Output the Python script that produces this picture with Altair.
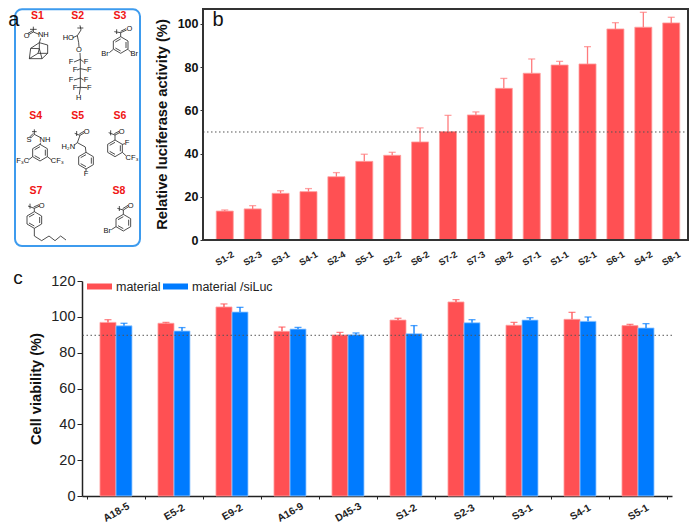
import altair as alt
import pandas as pd

FONT = "Liberation Sans"
RED = "#FF5053"
BLUE = "#007BFF"
RED_EDGE = "#FFA0A0"
BLUE_EDGE = "#9CCBFF"

# ---- panel b ----
b_names = ["S1-2", "S2-3", "S3-1", "S4-1", "S2-4", "S5-1", "S2-2", "S6-2", "S7-2", "S7-3",
           "S8-2", "S7-1", "S1-1", "S2-1", "S6-1", "S4-2", "S8-1"]
b_vals = [13.4, 14.4, 21.6, 22.4, 29.3, 36.4, 39.2, 45.4, 50.2, 57.9,
          70.2, 77.2, 81.0, 81.5, 97.7, 98.5, 100.5]
b_tops = [13.9, 15.9, 22.8, 23.8, 31.2, 39.7, 40.6, 51.9, 57.7, 59.3,
          74.8, 83.8, 82.7, 89.5, 100.6, 105.4, 103.1]
b_line = 50
b_df = pd.DataFrame({"name": b_names, "val": b_vals, "top": b_tops})

# ---- panel c ----
c_names = ["A18-5", "E5-2", "E9-2", "A16-9", "D45-3", "S1-2", "S2-3", "S3-1", "S4-1", "S5-1"]
c_mat = [96.9, 96.4, 105.5, 91.9, 89.9, 98.2, 108.3, 95.3, 98.6, 95.1]
c_mat_top = [98.4, 96.9, 107.2, 94.3, 91.3, 99.2, 109.6, 96.9, 102.5, 95.8]
c_si = [95.0, 92.1, 102.7, 93.2, 90.0, 90.6, 96.7, 98.2, 97.5, 93.8]
c_si_top = [96.4, 94.0, 105.3, 94.1, 91.0, 95.1, 98.4, 99.5, 99.9, 96.2]
c_line = 89.7
c_series = ["material", "material /siLuc"]
c_df = pd.DataFrame({
    "name": c_names * 2,
    "series": [c_series[0]] * 10 + [c_series[1]] * 10,
    "val": c_mat + c_si,
    "top": c_mat_top + c_si_top,
})

# ---- panel a: structure drawing ----
a_titles = ["S1", "S2", "S3", "S4", "S5", "S6", "S7", "S8"]
a_title_x = [112, 233, 360, 107, 233, 360, 108, 357]
a_title_y = [47, 47, 47, 347, 347, 347, 572, 572]

atom_text = ["O", "NH", "HO", "O", "F", "F", "F", "F", "F", "F", "F", "F", "H",
             "O", "Br", "Br",
             "S", "NH", "F\u2083C", "CF\u2083",
             "O", "H\u2082N", "F",
             "O", "F", "CF\u2083",
             "O", "O", "Br"]
atom_x = [80, 130, 205, 237, 213, 258, 225, 268, 213, 258, 225, 268, 236,
          388, 315, 403,
          87, 135, 68, 172,
          260, 205, 258,
          365, 381, 396,
          125, 392, 322]
atom_y = [108, 106, 114, 150, 187, 187, 210, 210, 240, 240, 263, 263, 295,
          88, 163, 163,
          420, 420, 484, 484,
          397, 440, 523,
          397, 430, 475,
          617, 618, 692]

ring_cx = [362, 120, 258, 345, 103, 370]
ring_cy = [135, 458, 482, 445, 660, 668]
ring_outer = [(0, -25), (22, -12), (22, 12), (0, 25), (-22, 12), (-22, -12), (0, -25)]
ring_inner = [((16, -9), (16, 9)), ((-16, 9), (0, 18)), ((-16, -9), (0, -18))]

chains = [
    # S1
    [(100, 80), (100, 96), (117, 103)], [(90, 88), (110, 88)], [(100, 96), (86, 104)], [(98, 92), (84, 100)],
    [(122, 115), (118, 128), (92, 145), (88, 176), (114, 160), (143, 160), (143, 135), (118, 128)],
    [(118, 128), (118, 146), (92, 145)], [(118, 146), (114, 160)], [(88, 176), (126, 176), (143, 160)], [(118, 146), (126, 176)],
    # S2
    [(240, 76), (243, 90), (232, 107), (218, 113)], [(232, 84), (250, 84)], [(232, 107), (236, 128), (237, 141)],
    [(240, 159), (241, 178), (241, 206), (241, 234), (241, 262), (238, 284)],
    [(241, 178), (222, 186)], [(241, 178), (251, 186)], [(241, 206), (231, 210)], [(241, 206), (261, 210)],
    [(241, 234), (222, 240)], [(241, 234), (251, 240)], [(241, 262), (231, 263)], [(241, 262), (261, 263)],
    # S3
    [(350, 88), (350, 102)], [(343, 95), (362, 98), (362, 110)], [(362, 98), (380, 90)], [(362, 94), (378, 86)],
    [(340, 148), (328, 158)], [(384, 148), (394, 158)],
    # S4
    [(103, 388), (103, 403), (122, 413)], [(96, 395), (110, 395)], [(103, 403), (92, 414)], [(100, 400), (89, 411)],
    [(122, 428), (120, 433)], [(98, 470), (85, 480)], [(142, 470), (155, 480)],
    # S5
    [(230, 393), (230, 408)], [(224, 400), (240, 406), (232, 428), (222, 436)], [(240, 406), (254, 398)], [(238, 402), (252, 394)],
    [(232, 428), (256, 441), (258, 457)], [(258, 507), (258, 514)],
    # S6
    [(332, 391), (332, 406)], [(326, 398), (345, 405), (345, 420)], [(345, 405), (359, 398)], [(343, 401), (357, 394)],
    [(367, 433), (375, 431)], [(367, 457), (379, 468)],
    # S7
    [(90, 611), (90, 626)], [(84, 618), (103, 625), (103, 635)], [(103, 625), (119, 618)], [(101, 621), (117, 614)],
    [(103, 685), (103, 708), (125, 722), (147, 708), (165, 722), (182, 708), (198, 720)],
    # S8
    [(358, 618), (358, 633)], [(352, 625), (370, 630), (370, 643)], [(370, 630), (386, 620)], [(368, 626), (384, 616)],
    [(348, 680), (334, 689)],
]

segs = []
for cx, cy in zip(ring_cx, ring_cy):
    for p, q in zip(ring_outer[:-1], ring_outer[1:]):
        segs.append((cx + p[0], cy + p[1], cx + q[0], cy + q[1]))
    for p, q in ring_inner:
        segs.append((cx + p[0], cy + p[1], cx + q[0], cy + q[1]))
for ch in chains:
    for p, q in zip(ch[:-1], ch[1:]):
        segs.append((p[0], p[1], q[0], q[1]))
seg_df = pd.DataFrame(segs, columns=["x", "y", "x2", "y2"])

AX = alt.Scale(domain=[24, 450], range=[-74, 68], nice=False, zero=False)
AY = alt.Scale(domain=[24, 750], range=[0, 242], nice=False, zero=False)
x_a = lambda f: alt.X(f, type="quantitative", scale=AX, axis=None)
y_a = lambda f: alt.Y(f, type="quantitative", scale=AY, axis=None)

frame = alt.Chart(pd.DataFrame({"x": [45], "y": [28], "x2": [420], "y2": [738]})).mark_rect(
    fill=None, stroke="#3D9BEE", strokeWidth=2, cornerRadius=7
).encode(x=x_a("x"), y=y_a("y"), x2="x2", y2="y2")
bonds = alt.Chart(seg_df).mark_rule(color="#222222", strokeWidth=0.8).encode(
    x=x_a("x"), y=y_a("y"), x2="x2", y2="y2")
atoms = alt.Chart(pd.DataFrame({"t": atom_text, "x": atom_x, "y": atom_y})).mark_text(
    font=FONT, fontSize=7.5, color="#111111"
).encode(x=x_a("x"), y=y_a("y"), text="t:N")
labels_a = alt.Chart(pd.DataFrame({"t": a_titles, "x": a_title_x, "y": a_title_y})).mark_text(
    font=FONT, fontSize=10.5, fontWeight="bold", color="#F01414"
).encode(x=x_a("x"), y=y_a("y"), text="t:N")
letter_a = alt.Chart(pd.DataFrame({"t": ["a"], "x": [25], "y": [78]})).mark_text(
    font=FONT, fontSize=20, color="#111111", align="left", baseline="alphabetic"
).encode(x=x_a("x"), y=y_a("y"), text="t:N")
group_a = alt.layer(frame, bonds, atoms, labels_a, letter_a)

# ---- panel b chart ----
xb = alt.X("name:N", sort=b_names, title=None,
           scale=alt.Scale(range=[121, 611], paddingInner=0.39, paddingOuter=0.475),
           axis=alt.Axis(labelAngle=-30, labelFont=FONT, labelFontSize=9.2, labelFontWeight="bold",
                         labelColor="#222222", ticks=False, domain=False,
                         labelPadding=18, labelOverlap=False,
                         labelAlign="center", labelBaseline="middle"))
yb = alt.Y("val:Q", title="Relative luciferase activity (%)",
           scale=alt.Scale(domain=[0, 107.4], nice=False),
           axis=alt.Axis(values=[0, 20, 40, 60, 80, 100], tickCount=6, grid=False, offset=-121, labelFont=FONT,
                         labelFontSize=12.5, labelFontWeight="bold", labelColor="#111111", tickColor="#333333",
                         tickSize=3, domain=False, titleFont=FONT, titleFontSize=14.7,
                         titleFontWeight="bold", titleColor="#111111", titlePadding=8, labelOverlap=False))
b_bars = alt.Chart(b_df).mark_bar(color=RED, stroke=RED_EDGE, strokeWidth=0.8).encode(x=xb, y=yb)
b_err = alt.Chart(b_df).mark_rule(color="#FF7A7C", strokeWidth=1.3).encode(
    x=alt.X("name:N", sort=b_names), y="val:Q", y2="top:Q")
b_cap = alt.Chart(b_df).mark_tick(color="#FF7A7C", size=7, thickness=1.3, orient="horizontal").encode(
    x=alt.X("name:N", sort=b_names), y="top:Q")
b_ref = alt.Chart(pd.DataFrame({"v": [b_line]})).mark_rule(
    color="#555555", strokeDash=[1.5, 2.5], strokeWidth=1).encode(
    y="v:Q", x=alt.value(121), x2=alt.value(606))
b_frame = alt.Chart(pd.DataFrame({"v": [0]})).mark_rect(fill=None, stroke="#333333", strokeWidth=2).encode(
    x=alt.value(121), x2=alt.value(606), y=alt.value(1), y2=alt.value(232))
b_letter = alt.Chart(pd.DataFrame({"t": ["b"]})).mark_text(
    font=FONT, fontSize=20, color="#111111", align="center", baseline="alphabetic"
).encode(x=alt.value(136), y=alt.value(18), text="t:N")
group_b = alt.layer(b_bars, b_err, b_cap, b_ref, b_frame, b_letter)

top = alt.layer(group_b, group_a).resolve_scale(x="independent", y="independent").properties(
    width=606, height=232)

# ---- panel c chart ----
xc = alt.X("name:N", sort=c_names, title=None,
           scale=alt.Scale(paddingInner=0, paddingOuter=0.086),
           axis=alt.Axis(labelAngle=-30, labelFont=FONT, labelFontSize=10.3, labelFontWeight="bold",
                         labelColor="#222222", tickColor="#222222", tickSize=3, tickBand="extent",
                         domainColor="#222222", domainWidth=1.5, labelPadding=13, labelOverlap=False,
                         labelAlign="center", labelBaseline="middle"))
xo = alt.XOffset("series:N", sort=c_series, scale=alt.Scale(paddingInner=0, paddingOuter=0.81))
yc = alt.Y("val:Q", title="Cell viability (%)", scale=alt.Scale(domain=[0, 120], nice=False),
           axis=alt.Axis(values=[0, 20, 40, 60, 80, 100, 120], tickCount=7, grid=False, labelFont=FONT,
                         labelFontSize=14.5, labelColor="#222222", tickColor="#222222", tickSize=5,
                         domainColor="#222222", domainWidth=1.5, titleFont=FONT, titleFontSize=14.6,
                         titleFontWeight="bold", titleColor="#111111", titlePadding=7, labelOverlap=False))
col = alt.Color("series:N", sort=c_series,
                scale=alt.Scale(domain=c_series, range=[RED, BLUE]),
                legend=alt.Legend(orient="none", legendX=5, legendY=266, columns=2, title=None, direction="horizontal",
                                  symbolType="M-1,-0.24H1V0.24H-1Z", symbolSize=625, symbolStrokeWidth=0,
                                  symbolOpacity=1, labelFont=FONT, labelFontSize=12.5, labelColor="#222222",
                                  labelOffset=4, columnPadding=2, padding=0))
c_bars = alt.Chart(c_df).mark_bar(strokeWidth=0.8).encode(
    x=xc, xOffset=xo, y=yc, color=col,
    stroke=alt.Stroke("series:N", scale=alt.Scale(domain=c_series, range=[RED_EDGE, BLUE_EDGE]), legend=None))
c_err = alt.Chart(c_df).mark_rule(strokeWidth=1.3).encode(
    x=alt.X("name:N", sort=c_names), xOffset=xo, y="val:Q", y2="top:Q", color=col)
c_cap = alt.Chart(c_df).mark_tick(size=7, thickness=1.3, orient="horizontal").encode(
    x=alt.X("name:N", sort=c_names), xOffset=xo, y="top:Q", color=col)
c_ref = alt.Chart(pd.DataFrame({"v": [c_line]})).mark_rule(
    color="#555555", strokeDash=[1.5, 2.5], strokeWidth=1).encode(y="v:Q")
c_letter = alt.Chart(pd.DataFrame({"t": ["c"]})).mark_text(
    font=FONT, fontSize=19, color="#111111", align="center", baseline="middle"
).encode(x=alt.value(-64), y=alt.value(-3), text="t:N")
panel_c = alt.layer(c_bars, c_err, c_cap, c_ref, c_letter).properties(width=590, height=215)

chart = alt.vconcat(top, panel_c, spacing=1).properties(
    padding=0, background="white"
).configure_view(stroke=None).configure_axis(labelFont=FONT, titleFont=FONT)

chart.save("out.html", embed_options={"renderer": "svg", "actions": False})
